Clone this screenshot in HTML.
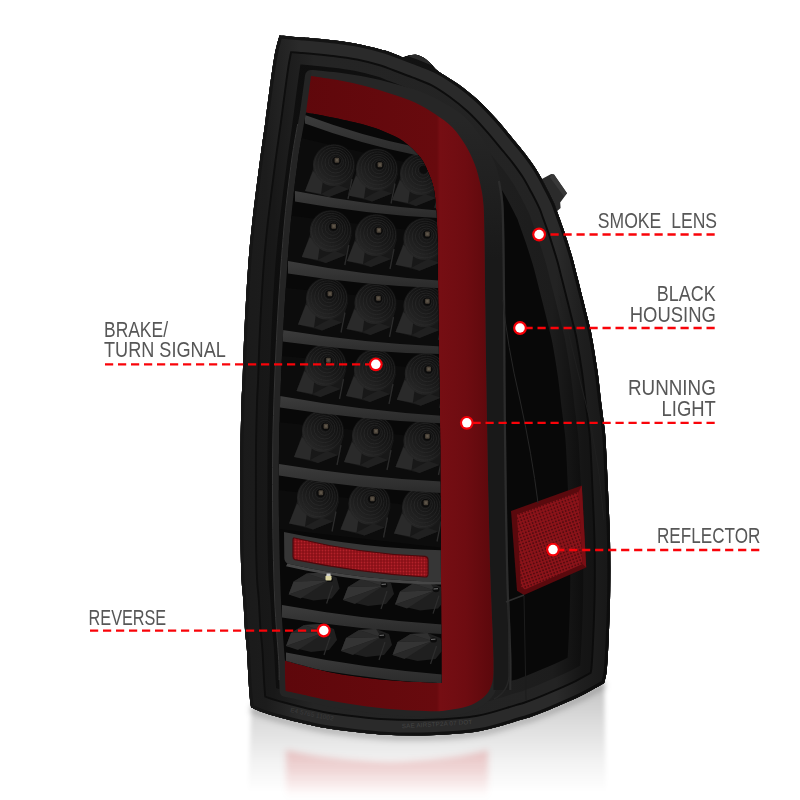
<!DOCTYPE html>
<html lang="en"><head><meta charset="utf-8"><title>Tail light features</title>
<style>
html,body{margin:0;padding:0;background:#fff;}
body{width:800px;height:800px;overflow:hidden;font-family:"Liberation Sans",sans-serif;}
svg{display:block}
.lbl text{font-family:"Liberation Sans",sans-serif;font-size:22.4px;fill:#575757;}
.dash line{stroke:#f90309;stroke-width:2.3;stroke-dasharray:8.2 4.8;}
</style></head><body>
<svg width="800" height="800" viewBox="0 0 800 800">
<defs>
<linearGradient id="redg" x1="285" y1="0" x2="493" y2="0" gradientUnits="userSpaceOnUse"><stop offset="0" stop-color="#5e070b"/><stop offset="0.73" stop-color="#680a0e"/><stop offset="0.745" stop-color="#760e13"/><stop offset="0.87" stop-color="#6e0c11"/><stop offset="1" stop-color="#5c080c"/></linearGradient>
<linearGradient id="ledg" x1="0.1" y1="0.95" x2="0.8" y2="0.1">
<stop offset="0" stop-color="#2a2a2a"/><stop offset="0.45" stop-color="#1b1b1b"/><stop offset="1" stop-color="#0e0e0e"/>
</linearGradient>
<linearGradient id="shelfg" x1="0" y1="0" x2="0" y2="1">
<stop offset="0" stop-color="#3c3c3c"/><stop offset="1" stop-color="#2a2a2a"/>
</linearGradient>
<linearGradient id="shadowg" x1="0" y1="700" x2="0" y2="800" gradientUnits="userSpaceOnUse">
<stop offset="0" stop-color="#9a9a9a" stop-opacity="0.9"/><stop offset="0.5" stop-color="#d5d5d5" stop-opacity="0.6"/><stop offset="1" stop-color="#fff" stop-opacity="0"/>
</linearGradient>
<linearGradient id="gA" x1="240" y1="0" x2="612" y2="0" gradientUnits="userSpaceOnUse"><stop offset="0" stop-color="#1a1a1a"/><stop offset="0.07" stop-color="#1c1c1c"/><stop offset="0.16" stop-color="#2a2a2a"/><stop offset="0.85" stop-color="#2a2a2a"/><stop offset="0.92" stop-color="#1e1e1e"/><stop offset="1" stop-color="#171717"/></linearGradient>
<linearGradient id="gB" x1="240" y1="0" x2="612" y2="0" gradientUnits="userSpaceOnUse"><stop offset="0" stop-color="#161616"/><stop offset="0.09" stop-color="#181818"/><stop offset="0.2" stop-color="#242424"/><stop offset="0.85" stop-color="#232323"/><stop offset="0.92" stop-color="#151515"/><stop offset="1" stop-color="#111"/></linearGradient>
<linearGradient id="gL" x1="240" y1="0" x2="612" y2="0" gradientUnits="userSpaceOnUse"><stop offset="0" stop-color="#0e0e0e"/><stop offset="1" stop-color="#0b0b0b"/></linearGradient>
<linearGradient id="gD" x1="240" y1="0" x2="612" y2="0" gradientUnits="userSpaceOnUse"><stop offset="0" stop-color="#0e0e0e"/><stop offset="0.55" stop-color="#101010"/><stop offset="0.66" stop-color="#1f1f1f"/><stop offset="0.84" stop-color="#1c1c1c"/><stop offset="0.92" stop-color="#0e0e0e"/><stop offset="1" stop-color="#0b0b0b"/></linearGradient>
<linearGradient id="gR" x1="240" y1="0" x2="612" y2="0" gradientUnits="userSpaceOnUse"><stop offset="0" stop-color="#161616"/><stop offset="1" stop-color="#0d0d0d"/></linearGradient>
<linearGradient id="reflg" x1="0" y1="690" x2="0" y2="792" gradientUnits="userSpaceOnUse"><stop offset="0" stop-color="#000" stop-opacity="0.22"/><stop offset="0.35" stop-color="#000" stop-opacity="0.13"/><stop offset="0.7" stop-color="#000" stop-opacity="0.05"/><stop offset="1" stop-color="#000" stop-opacity="0"/></linearGradient>
<linearGradient id="pinkg" x1="0" y1="746" x2="0" y2="798" gradientUnits="userSpaceOnUse"><stop offset="0" stop-color="#c8000f" stop-opacity="0.2"/><stop offset="0.5" stop-color="#c8000f" stop-opacity="0.12"/><stop offset="1" stop-color="#c8000f" stop-opacity="0"/></linearGradient>
<filter id="blur2" x="-10%" y="-10%" width="120%" height="120%"><feGaussianBlur stdDeviation="2"/></filter>
<filter id="blur1" x="-10%" y="-10%" width="120%" height="120%"><feGaussianBlur stdDeviation="1.2"/></filter>
<linearGradient id="gbg" x1="0" y1="120" x2="0" y2="260" gradientUnits="userSpaceOnUse"><stop offset="0" stop-color="#262626"/><stop offset="1" stop-color="#191919"/></linearGradient>
<filter id="blur6" x="-20%" y="-20%" width="140%" height="140%"><feGaussianBlur stdDeviation="6"/></filter>
<filter id="blur3" x="-20%" y="-20%" width="140%" height="140%"><feGaussianBlur stdDeviation="3"/></filter>
<pattern id="dots" width="3" height="3" patternUnits="userSpaceOnUse"><rect width="3" height="3" fill="#8a0f16"/><circle cx="1.5" cy="1.5" r="0.9" fill="#b3222a"/></pattern>
<pattern id="dots2" width="3.2" height="3.2" patternUnits="userSpaceOnUse" patternTransform="rotate(-20)"><rect width="3.2" height="3.2" fill="#8c1319"/><circle cx="1.6" cy="1.6" r="0.95" fill="#560a0e"/></pattern>
<clipPath id="clipOutline"><path d="M279.5,35.5 C282.9,35.8 294.9,36.9 300.0,37.3 C305.1,37.7 304.2,37.5 310.0,38.1 C315.8,38.7 326.7,39.6 335.0,40.6 C343.3,41.6 351.7,42.7 360.0,44.4 C368.3,46.1 378.5,48.7 385.0,50.6 C391.5,52.5 396.0,54.7 399.0,55.8 C402.0,56.9 401.3,57.3 403.0,57.3 C404.7,57.3 406.8,56.0 409.0,55.6 C411.2,55.2 413.5,54.4 416.0,54.8 C418.5,55.2 421.5,56.5 424.0,58.0 C426.5,59.5 428.6,61.8 431.0,64.0 C433.4,66.2 433.9,68.1 438.5,71.5 C443.1,74.9 452.2,79.7 458.8,84.4 C465.2,89.1 471.2,93.8 477.5,99.5 C483.8,105.2 490.0,111.8 496.2,118.8 C502.5,125.7 510.2,135.5 515.0,141.2 C519.8,147.0 521.5,148.9 525.0,153.5 C528.5,158.1 532.7,163.8 536.0,169.0 C539.3,174.2 542.0,179.4 545.0,185.0 C548.0,190.6 551.7,197.9 553.8,202.5 C555.8,207.1 555.8,207.9 557.5,212.5 C559.2,217.1 562.2,225.4 563.8,230.0 C565.3,234.6 565.5,235.3 567.0,240.0 C568.5,244.7 570.8,251.8 572.5,258.0 C574.2,264.2 575.6,270.1 577.5,277.5 C579.4,284.9 581.7,294.2 583.8,302.5 C585.8,310.8 588.5,321.2 590.0,327.5 C591.5,333.8 591.2,332.8 592.5,340.0 C593.8,347.2 596.0,360.6 597.5,371.0 C599.0,381.4 600.2,393.9 601.2,402.5 C602.3,411.1 603.0,416.2 603.8,422.5 C604.5,428.8 604.9,428.8 605.6,440.0 C606.3,451.2 607.3,473.3 608.0,490.0 C608.7,506.7 609.6,523.3 610.0,540.0 C610.4,556.7 610.4,573.3 610.2,590.0 C610.0,606.7 609.2,626.7 608.6,640.0 C608.0,653.3 607.5,662.8 606.8,670.0 C606.1,677.2 604.6,680.8 604.2,683.0 C600.6,685.0 590.3,691.1 582.5,695.0 C574.7,698.9 565.8,702.7 557.5,706.2 C549.2,709.8 538.8,714.0 532.5,716.2 C526.2,718.5 528.8,717.5 520.0,720.0 C511.2,722.5 495.0,728.5 480.0,731.0 C465.0,733.5 446.7,734.7 430.0,735.3 C413.3,735.9 396.7,735.5 380.0,734.4 C363.3,733.3 342.5,730.5 330.0,728.8 C317.5,727.0 313.3,725.6 305.0,723.8 C296.7,721.9 287.2,719.5 280.0,717.5 C272.8,715.5 266.8,713.7 262.0,712.0 C257.2,710.3 253.0,708.2 251.2,707.5 C251.0,706.2 250.5,704.6 250.0,700.0 C249.5,695.4 249.0,688.3 248.5,680.0 C248.0,671.7 247.5,658.3 246.9,650.0 C246.3,641.7 245.6,638.3 245.0,630.0 C244.4,621.7 243.9,608.3 243.3,600.0 C242.7,591.7 242.1,590.0 241.6,580.0 C241.1,570.0 240.7,553.3 240.5,540.0 C240.3,526.7 240.4,511.7 240.4,500.0 C240.4,488.3 240.4,480.0 240.4,470.0 C240.4,460.0 240.4,451.7 240.6,440.0 C240.8,428.3 241.3,410.0 241.6,400.0 C241.9,390.0 242.2,390.0 242.6,380.0 C243.0,370.0 243.4,353.3 244.0,340.0 C244.6,326.7 245.2,313.3 246.0,300.0 C246.8,286.7 247.5,273.3 248.6,260.0 C249.7,246.7 250.6,236.7 252.5,220.0 C254.4,203.3 257.8,176.7 260.0,160.0 C262.2,143.3 263.3,136.7 265.6,120.0 C267.9,103.3 271.4,74.1 273.8,60.0 C276.1,45.9 278.5,39.6 279.5,35.5Z"/></clipPath>
<clipPath id="clipPanel"><path d="M306.0,112.5 C310.8,113.4 325.2,115.9 335.0,118.0 C344.8,120.1 356.7,122.7 365.0,125.0 C373.3,127.3 378.7,129.3 385.0,132.0 C391.3,134.7 397.2,136.8 403.0,141.0 C408.8,145.2 415.8,151.8 420.0,157.0 C424.2,162.2 425.7,166.5 428.0,172.0 C430.3,177.5 432.6,182.8 434.0,190.0 C435.4,197.2 435.9,206.7 436.5,215.0 C437.1,223.3 437.2,229.2 437.5,240.0 C437.8,250.8 437.8,260.0 438.0,280.0 C438.2,300.0 438.7,336.7 439.0,360.0 C439.3,383.3 439.8,396.7 440.0,420.0 C440.2,443.3 440.3,473.3 440.5,500.0 C440.7,526.7 440.8,555.0 441.0,580.0 C441.2,605.0 441.4,632.8 441.5,650.0 C441.6,667.2 441.5,677.5 441.5,683.0 L441.5,683 C439.6,682.9 440.2,683.1 430.0,682.5 C419.8,681.9 396.7,681.1 380.0,679.4 C363.3,677.7 345.8,675.3 330.0,672.2 C314.2,669.1 292.5,662.5 285.0,660.6 C284.3,650.5 282.0,623.4 281.0,600.0 C280.0,576.6 279.3,545.0 279.0,520.0 C278.7,495.0 278.7,473.3 279.0,450.0 C279.3,426.7 280.0,405.0 281.0,380.0 C282.0,355.0 283.3,326.7 285.0,300.0 C286.7,273.3 288.8,243.3 291.0,220.0 C293.2,196.7 295.5,177.9 298.0,160.0 C300.5,142.1 304.7,120.4 306.0,112.5Z"/></clipPath>
</defs>
<rect width="800" height="800" fill="#fff"/>

<g filter="url(#blur3)"><path d="M251.2,707.5 C253.0,708.2 257.2,710.3 262.0,712.0 C266.8,713.7 272.8,715.5 280.0,717.5 C287.2,719.5 296.7,721.9 305.0,723.8 C313.3,725.6 317.5,727.0 330.0,728.8 C342.5,730.5 363.3,733.3 380.0,734.4 C396.7,735.5 413.3,735.9 430.0,735.3 C446.7,734.7 465.0,733.5 480.0,731.0 C495.0,728.5 511.2,722.5 520.0,720.0 C528.8,717.5 526.2,718.5 532.5,716.2 C538.8,714.0 549.2,709.8 557.5,706.2 C565.8,702.7 574.7,698.9 582.5,695.0 C590.3,691.1 600.6,685.0 604.2,683.0" fill="none" stroke="#000" stroke-opacity="0.22" stroke-width="9"/></g>
<g filter="url(#blur2)"><path d="M251.2,707.5 C253.0,708.2 257.2,710.3 262.0,712.0 C266.8,713.7 272.8,715.5 280.0,717.5 C287.2,719.5 296.7,721.9 305.0,723.8 C313.3,725.6 317.5,727.0 330.0,728.8 C342.5,730.5 363.3,733.3 380.0,734.4 C396.7,735.5 413.3,735.9 430.0,735.3 C446.7,734.7 465.0,733.5 480.0,731.0 C495.0,728.5 511.2,722.5 520.0,720.0 C528.8,717.5 526.2,718.5 532.5,716.2 C538.8,714.0 549.2,709.8 557.5,706.2 C565.8,702.7 574.7,698.9 582.5,695.0 C590.3,691.1 600.6,685.0 604.2,683.0 L606,800 L248,800 Z" fill="url(#reflg)"/>
</g><g filter="url(#blur3)"><path d="M286,750 Q330,760 390,762 Q450,760 488,750 L488,800 L286,800 Z" fill="url(#pinkg)"/></g>
<path d="M540,180 L551.2,174 L554,174.4 L567,193.2 L560.2,202.5 L560.6,208 L555,213 Z" fill="#2b2b2b"/><path d="M551.2,174 L554,174.4 L567,193.2 L564,196.5 L550,177.5 Z" fill="#383838"/>
<path d="M279.5,35.5 C282.9,35.8 294.9,36.9 300.0,37.3 C305.1,37.7 304.2,37.5 310.0,38.1 C315.8,38.7 326.7,39.6 335.0,40.6 C343.3,41.6 351.7,42.7 360.0,44.4 C368.3,46.1 378.5,48.7 385.0,50.6 C391.5,52.5 396.0,54.7 399.0,55.8 C402.0,56.9 401.3,57.3 403.0,57.3 C404.7,57.3 406.8,56.0 409.0,55.6 C411.2,55.2 413.5,54.4 416.0,54.8 C418.5,55.2 421.5,56.5 424.0,58.0 C426.5,59.5 428.6,61.8 431.0,64.0 C433.4,66.2 433.9,68.1 438.5,71.5 C443.1,74.9 452.2,79.7 458.8,84.4 C465.2,89.1 471.2,93.8 477.5,99.5 C483.8,105.2 490.0,111.8 496.2,118.8 C502.5,125.7 510.2,135.5 515.0,141.2 C519.8,147.0 521.5,148.9 525.0,153.5 C528.5,158.1 532.7,163.8 536.0,169.0 C539.3,174.2 542.0,179.4 545.0,185.0 C548.0,190.6 551.7,197.9 553.8,202.5 C555.8,207.1 555.8,207.9 557.5,212.5 C559.2,217.1 562.2,225.4 563.8,230.0 C565.3,234.6 565.5,235.3 567.0,240.0 C568.5,244.7 570.8,251.8 572.5,258.0 C574.2,264.2 575.6,270.1 577.5,277.5 C579.4,284.9 581.7,294.2 583.8,302.5 C585.8,310.8 588.5,321.2 590.0,327.5 C591.5,333.8 591.2,332.8 592.5,340.0 C593.8,347.2 596.0,360.6 597.5,371.0 C599.0,381.4 600.2,393.9 601.2,402.5 C602.3,411.1 603.0,416.2 603.8,422.5 C604.5,428.8 604.9,428.8 605.6,440.0 C606.3,451.2 607.3,473.3 608.0,490.0 C608.7,506.7 609.6,523.3 610.0,540.0 C610.4,556.7 610.4,573.3 610.2,590.0 C610.0,606.7 609.2,626.7 608.6,640.0 C608.0,653.3 607.5,662.8 606.8,670.0 C606.1,677.2 604.6,680.8 604.2,683.0 C600.6,685.0 590.3,691.1 582.5,695.0 C574.7,698.9 565.8,702.7 557.5,706.2 C549.2,709.8 538.8,714.0 532.5,716.2 C526.2,718.5 528.8,717.5 520.0,720.0 C511.2,722.5 495.0,728.5 480.0,731.0 C465.0,733.5 446.7,734.7 430.0,735.3 C413.3,735.9 396.7,735.5 380.0,734.4 C363.3,733.3 342.5,730.5 330.0,728.8 C317.5,727.0 313.3,725.6 305.0,723.8 C296.7,721.9 287.2,719.5 280.0,717.5 C272.8,715.5 266.8,713.7 262.0,712.0 C257.2,710.3 253.0,708.2 251.2,707.5 C251.0,706.2 250.5,704.6 250.0,700.0 C249.5,695.4 249.0,688.3 248.5,680.0 C248.0,671.7 247.5,658.3 246.9,650.0 C246.3,641.7 245.6,638.3 245.0,630.0 C244.4,621.7 243.9,608.3 243.3,600.0 C242.7,591.7 242.1,590.0 241.6,580.0 C241.1,570.0 240.7,553.3 240.5,540.0 C240.3,526.7 240.4,511.7 240.4,500.0 C240.4,488.3 240.4,480.0 240.4,470.0 C240.4,460.0 240.4,451.7 240.6,440.0 C240.8,428.3 241.3,410.0 241.6,400.0 C241.9,390.0 242.2,390.0 242.6,380.0 C243.0,370.0 243.4,353.3 244.0,340.0 C244.6,326.7 245.2,313.3 246.0,300.0 C246.8,286.7 247.5,273.3 248.6,260.0 C249.7,246.7 250.6,236.7 252.5,220.0 C254.4,203.3 257.8,176.7 260.0,160.0 C262.2,143.3 263.3,136.7 265.6,120.0 C267.9,103.3 271.4,74.1 273.8,60.0 C276.1,45.9 278.5,39.6 279.5,35.5Z" fill="#080808"/>
<g clip-path="url(#clipOutline)">
<path d="M397,55 L403,57.3 L409,55.6 L416,54.8 L424,58 L431,64 L440,72 Z" fill="#262626" stroke="#161616" stroke-width="1"/>
<path d="M279.5,35.5 C282.9,35.8 294.9,36.9 300.0,37.3 C305.1,37.7 304.2,37.5 310.0,38.1 C315.8,38.7 326.7,39.6 335.0,40.6 C343.3,41.6 351.7,42.7 360.0,44.4 C368.3,46.1 378.5,48.7 385.0,50.6 C391.5,52.5 393.5,53.7 399.0,55.8 C404.5,57.9 411.4,60.4 418.0,63.0 C424.6,65.6 431.7,67.9 438.5,71.5 C445.3,75.1 452.2,79.7 458.8,84.4 C465.2,89.1 471.2,93.8 477.5,99.5 C483.8,105.2 490.0,111.8 496.2,118.8 C502.5,125.7 510.2,135.5 515.0,141.2 C519.8,147.0 521.5,148.9 525.0,153.5 C528.5,158.1 532.7,163.8 536.0,169.0 C539.3,174.2 542.0,179.4 545.0,185.0 C548.0,190.6 551.7,197.9 553.8,202.5 C555.8,207.1 555.8,207.9 557.5,212.5 C559.2,217.1 562.2,225.4 563.8,230.0 C565.3,234.6 565.5,235.3 567.0,240.0 C568.5,244.7 570.8,251.8 572.5,258.0 C574.2,264.2 575.6,270.1 577.5,277.5 C579.4,284.9 581.7,294.2 583.8,302.5 C585.8,310.8 588.5,321.2 590.0,327.5 C591.5,333.8 591.2,332.8 592.5,340.0 C593.8,347.2 596.0,360.6 597.5,371.0 C599.0,381.4 600.2,393.9 601.2,402.5 C602.3,411.1 603.0,416.2 603.8,422.5 C604.5,428.8 604.9,428.8 605.6,440.0 C606.3,451.2 607.3,473.3 608.0,490.0 C608.7,506.7 609.6,523.3 610.0,540.0 C610.4,556.7 610.4,573.3 610.2,590.0 C610.0,606.7 609.2,626.7 608.6,640.0 C608.0,653.3 607.5,662.8 606.8,670.0 C606.1,677.2 604.6,680.8 604.2,683.0 C600.6,685.0 590.3,691.1 582.5,695.0 C574.7,698.9 565.8,702.7 557.5,706.2 C549.2,709.8 538.8,714.0 532.5,716.2 C526.2,718.5 528.8,717.5 520.0,720.0 C511.2,722.5 495.0,728.5 480.0,731.0 C465.0,733.5 446.7,734.7 430.0,735.3 C413.3,735.9 396.7,735.5 380.0,734.4 C363.3,733.3 342.5,730.5 330.0,728.8 C317.5,727.0 313.3,725.6 305.0,723.8 C296.7,721.9 287.2,719.5 280.0,717.5 C272.8,715.5 266.8,713.7 262.0,712.0 C257.2,710.3 253.0,708.2 251.2,707.5 C251.0,706.2 250.5,704.6 250.0,700.0 C249.5,695.4 249.0,688.3 248.5,680.0 C248.0,671.7 247.5,658.3 246.9,650.0 C246.3,641.7 245.6,638.3 245.0,630.0 C244.4,621.7 243.9,608.3 243.3,600.0 C242.7,591.7 242.1,590.0 241.6,580.0 C241.1,570.0 240.7,553.3 240.5,540.0 C240.3,526.7 240.4,511.7 240.4,500.0 C240.4,488.3 240.4,480.0 240.4,470.0 C240.4,460.0 240.4,451.7 240.6,440.0 C240.8,428.3 241.3,410.0 241.6,400.0 C241.9,390.0 242.2,390.0 242.6,380.0 C243.0,370.0 243.4,353.3 244.0,340.0 C244.6,326.7 245.2,313.3 246.0,300.0 C246.8,286.7 247.5,273.3 248.6,260.0 C249.7,246.7 250.6,236.7 252.5,220.0 C254.4,203.3 257.8,176.7 260.0,160.0 C262.2,143.3 263.3,136.7 265.6,120.0 C267.9,103.3 271.4,74.1 273.8,60.0 C276.1,45.9 278.5,39.6 279.5,35.5Z" fill="none" stroke="url(#gD)" stroke-width="80.0" stroke-linejoin="round"/>
<path d="M279.5,35.5 C282.9,35.8 294.9,36.9 300.0,37.3 C305.1,37.7 304.2,37.5 310.0,38.1 C315.8,38.7 326.7,39.6 335.0,40.6 C343.3,41.6 351.7,42.7 360.0,44.4 C368.3,46.1 378.5,48.7 385.0,50.6 C391.5,52.5 393.5,53.7 399.0,55.8 C404.5,57.9 411.4,60.4 418.0,63.0 C424.6,65.6 431.7,67.9 438.5,71.5 C445.3,75.1 452.2,79.7 458.8,84.4 C465.2,89.1 471.2,93.8 477.5,99.5 C483.8,105.2 490.0,111.8 496.2,118.8 C502.5,125.7 510.2,135.5 515.0,141.2 C519.8,147.0 521.5,148.9 525.0,153.5 C528.5,158.1 532.7,163.8 536.0,169.0 C539.3,174.2 542.0,179.4 545.0,185.0 C548.0,190.6 551.7,197.9 553.8,202.5 C555.8,207.1 555.8,207.9 557.5,212.5 C559.2,217.1 562.2,225.4 563.8,230.0 C565.3,234.6 565.5,235.3 567.0,240.0 C568.5,244.7 570.8,251.8 572.5,258.0 C574.2,264.2 575.6,270.1 577.5,277.5 C579.4,284.9 581.7,294.2 583.8,302.5 C585.8,310.8 588.5,321.2 590.0,327.5 C591.5,333.8 591.2,332.8 592.5,340.0 C593.8,347.2 596.0,360.6 597.5,371.0 C599.0,381.4 600.2,393.9 601.2,402.5 C602.3,411.1 603.0,416.2 603.8,422.5 C604.5,428.8 604.9,428.8 605.6,440.0 C606.3,451.2 607.3,473.3 608.0,490.0 C608.7,506.7 609.6,523.3 610.0,540.0 C610.4,556.7 610.4,573.3 610.2,590.0 C610.0,606.7 609.2,626.7 608.6,640.0 C608.0,653.3 607.5,662.8 606.8,670.0 C606.1,677.2 604.6,680.8 604.2,683.0 C600.6,685.0 590.3,691.1 582.5,695.0 C574.7,698.9 565.8,702.7 557.5,706.2 C549.2,709.8 538.8,714.0 532.5,716.2 C526.2,718.5 528.8,717.5 520.0,720.0 C511.2,722.5 495.0,728.5 480.0,731.0 C465.0,733.5 446.7,734.7 430.0,735.3 C413.3,735.9 396.7,735.5 380.0,734.4 C363.3,733.3 342.5,730.5 330.0,728.8 C317.5,727.0 313.3,725.6 305.0,723.8 C296.7,721.9 287.2,719.5 280.0,717.5 C272.8,715.5 266.8,713.7 262.0,712.0 C257.2,710.3 253.0,708.2 251.2,707.5 C251.0,706.2 250.5,704.6 250.0,700.0 C249.5,695.4 249.0,688.3 248.5,680.0 C248.0,671.7 247.5,658.3 246.9,650.0 C246.3,641.7 245.6,638.3 245.0,630.0 C244.4,621.7 243.9,608.3 243.3,600.0 C242.7,591.7 242.1,590.0 241.6,580.0 C241.1,570.0 240.7,553.3 240.5,540.0 C240.3,526.7 240.4,511.7 240.4,500.0 C240.4,488.3 240.4,480.0 240.4,470.0 C240.4,460.0 240.4,451.7 240.6,440.0 C240.8,428.3 241.3,410.0 241.6,400.0 C241.9,390.0 242.2,390.0 242.6,380.0 C243.0,370.0 243.4,353.3 244.0,340.0 C244.6,326.7 245.2,313.3 246.0,300.0 C246.8,286.7 247.5,273.3 248.6,260.0 C249.7,246.7 250.6,236.7 252.5,220.0 C254.4,203.3 257.8,176.7 260.0,160.0 C262.2,143.3 263.3,136.7 265.6,120.0 C267.9,103.3 271.4,74.1 273.8,60.0 C276.1,45.9 278.5,39.6 279.5,35.5Z" fill="none" stroke="url(#gB)" stroke-width="54.0" stroke-linejoin="round"/>
<path d="M279.5,35.5 C282.9,35.8 294.9,36.9 300.0,37.3 C305.1,37.7 304.2,37.5 310.0,38.1 C315.8,38.7 326.7,39.6 335.0,40.6 C343.3,41.6 351.7,42.7 360.0,44.4 C368.3,46.1 378.5,48.7 385.0,50.6 C391.5,52.5 393.5,53.7 399.0,55.8 C404.5,57.9 411.4,60.4 418.0,63.0 C424.6,65.6 431.7,67.9 438.5,71.5 C445.3,75.1 452.2,79.7 458.8,84.4 C465.2,89.1 471.2,93.8 477.5,99.5 C483.8,105.2 490.0,111.8 496.2,118.8 C502.5,125.7 510.2,135.5 515.0,141.2 C519.8,147.0 521.5,148.9 525.0,153.5 C528.5,158.1 532.7,163.8 536.0,169.0 C539.3,174.2 542.0,179.4 545.0,185.0 C548.0,190.6 551.7,197.9 553.8,202.5 C555.8,207.1 555.8,207.9 557.5,212.5 C559.2,217.1 562.2,225.4 563.8,230.0 C565.3,234.6 565.5,235.3 567.0,240.0 C568.5,244.7 570.8,251.8 572.5,258.0 C574.2,264.2 575.6,270.1 577.5,277.5 C579.4,284.9 581.7,294.2 583.8,302.5 C585.8,310.8 588.5,321.2 590.0,327.5 C591.5,333.8 591.2,332.8 592.5,340.0 C593.8,347.2 596.0,360.6 597.5,371.0 C599.0,381.4 600.2,393.9 601.2,402.5 C602.3,411.1 603.0,416.2 603.8,422.5 C604.5,428.8 604.9,428.8 605.6,440.0 C606.3,451.2 607.3,473.3 608.0,490.0 C608.7,506.7 609.6,523.3 610.0,540.0 C610.4,556.7 610.4,573.3 610.2,590.0 C610.0,606.7 609.2,626.7 608.6,640.0 C608.0,653.3 607.5,662.8 606.8,670.0 C606.1,677.2 604.6,680.8 604.2,683.0 C600.6,685.0 590.3,691.1 582.5,695.0 C574.7,698.9 565.8,702.7 557.5,706.2 C549.2,709.8 538.8,714.0 532.5,716.2 C526.2,718.5 528.8,717.5 520.0,720.0 C511.2,722.5 495.0,728.5 480.0,731.0 C465.0,733.5 446.7,734.7 430.0,735.3 C413.3,735.9 396.7,735.5 380.0,734.4 C363.3,733.3 342.5,730.5 330.0,728.8 C317.5,727.0 313.3,725.6 305.0,723.8 C296.7,721.9 287.2,719.5 280.0,717.5 C272.8,715.5 266.8,713.7 262.0,712.0 C257.2,710.3 253.0,708.2 251.2,707.5 C251.0,706.2 250.5,704.6 250.0,700.0 C249.5,695.4 249.0,688.3 248.5,680.0 C248.0,671.7 247.5,658.3 246.9,650.0 C246.3,641.7 245.6,638.3 245.0,630.0 C244.4,621.7 243.9,608.3 243.3,600.0 C242.7,591.7 242.1,590.0 241.6,580.0 C241.1,570.0 240.7,553.3 240.5,540.0 C240.3,526.7 240.4,511.7 240.4,500.0 C240.4,488.3 240.4,480.0 240.4,470.0 C240.4,460.0 240.4,451.7 240.6,440.0 C240.8,428.3 241.3,410.0 241.6,400.0 C241.9,390.0 242.2,390.0 242.6,380.0 C243.0,370.0 243.4,353.3 244.0,340.0 C244.6,326.7 245.2,313.3 246.0,300.0 C246.8,286.7 247.5,273.3 248.6,260.0 C249.7,246.7 250.6,236.7 252.5,220.0 C254.4,203.3 257.8,176.7 260.0,160.0 C262.2,143.3 263.3,136.7 265.6,120.0 C267.9,103.3 271.4,74.1 273.8,60.0 C276.1,45.9 278.5,39.6 279.5,35.5Z" fill="none" stroke="url(#gL)" stroke-width="33.0" stroke-linejoin="round"/>
<path d="M279.5,35.5 C282.9,35.8 294.9,36.9 300.0,37.3 C305.1,37.7 304.2,37.5 310.0,38.1 C315.8,38.7 326.7,39.6 335.0,40.6 C343.3,41.6 351.7,42.7 360.0,44.4 C368.3,46.1 378.5,48.7 385.0,50.6 C391.5,52.5 393.5,53.7 399.0,55.8 C404.5,57.9 411.4,60.4 418.0,63.0 C424.6,65.6 431.7,67.9 438.5,71.5 C445.3,75.1 452.2,79.7 458.8,84.4 C465.2,89.1 471.2,93.8 477.5,99.5 C483.8,105.2 490.0,111.8 496.2,118.8 C502.5,125.7 510.2,135.5 515.0,141.2 C519.8,147.0 521.5,148.9 525.0,153.5 C528.5,158.1 532.7,163.8 536.0,169.0 C539.3,174.2 542.0,179.4 545.0,185.0 C548.0,190.6 551.7,197.9 553.8,202.5 C555.8,207.1 555.8,207.9 557.5,212.5 C559.2,217.1 562.2,225.4 563.8,230.0 C565.3,234.6 565.5,235.3 567.0,240.0 C568.5,244.7 570.8,251.8 572.5,258.0 C574.2,264.2 575.6,270.1 577.5,277.5 C579.4,284.9 581.7,294.2 583.8,302.5 C585.8,310.8 588.5,321.2 590.0,327.5 C591.5,333.8 591.2,332.8 592.5,340.0 C593.8,347.2 596.0,360.6 597.5,371.0 C599.0,381.4 600.2,393.9 601.2,402.5 C602.3,411.1 603.0,416.2 603.8,422.5 C604.5,428.8 604.9,428.8 605.6,440.0 C606.3,451.2 607.3,473.3 608.0,490.0 C608.7,506.7 609.6,523.3 610.0,540.0 C610.4,556.7 610.4,573.3 610.2,590.0 C610.0,606.7 609.2,626.7 608.6,640.0 C608.0,653.3 607.5,662.8 606.8,670.0 C606.1,677.2 604.6,680.8 604.2,683.0 C600.6,685.0 590.3,691.1 582.5,695.0 C574.7,698.9 565.8,702.7 557.5,706.2 C549.2,709.8 538.8,714.0 532.5,716.2 C526.2,718.5 528.8,717.5 520.0,720.0 C511.2,722.5 495.0,728.5 480.0,731.0 C465.0,733.5 446.7,734.7 430.0,735.3 C413.3,735.9 396.7,735.5 380.0,734.4 C363.3,733.3 342.5,730.5 330.0,728.8 C317.5,727.0 313.3,725.6 305.0,723.8 C296.7,721.9 287.2,719.5 280.0,717.5 C272.8,715.5 266.8,713.7 262.0,712.0 C257.2,710.3 253.0,708.2 251.2,707.5 C251.0,706.2 250.5,704.6 250.0,700.0 C249.5,695.4 249.0,688.3 248.5,680.0 C248.0,671.7 247.5,658.3 246.9,650.0 C246.3,641.7 245.6,638.3 245.0,630.0 C244.4,621.7 243.9,608.3 243.3,600.0 C242.7,591.7 242.1,590.0 241.6,580.0 C241.1,570.0 240.7,553.3 240.5,540.0 C240.3,526.7 240.4,511.7 240.4,500.0 C240.4,488.3 240.4,480.0 240.4,470.0 C240.4,460.0 240.4,451.7 240.6,440.0 C240.8,428.3 241.3,410.0 241.6,400.0 C241.9,390.0 242.2,390.0 242.6,380.0 C243.0,370.0 243.4,353.3 244.0,340.0 C244.6,326.7 245.2,313.3 246.0,300.0 C246.8,286.7 247.5,273.3 248.6,260.0 C249.7,246.7 250.6,236.7 252.5,220.0 C254.4,203.3 257.8,176.7 260.0,160.0 C262.2,143.3 263.3,136.7 265.6,120.0 C267.9,103.3 271.4,74.1 273.8,60.0 C276.1,45.9 278.5,39.6 279.5,35.5Z" fill="none" stroke="url(#gA)" stroke-width="29.0" stroke-linejoin="round"/>
<path d="M279.5,35.5 C282.9,35.8 294.9,36.9 300.0,37.3 C305.1,37.7 304.2,37.5 310.0,38.1 C315.8,38.7 326.7,39.6 335.0,40.6 C343.3,41.6 351.7,42.7 360.0,44.4 C368.3,46.1 378.5,48.7 385.0,50.6 C391.5,52.5 393.5,53.7 399.0,55.8 C404.5,57.9 411.4,60.4 418.0,63.0 C424.6,65.6 431.7,67.9 438.5,71.5 C445.3,75.1 452.2,79.7 458.8,84.4 C465.2,89.1 471.2,93.8 477.5,99.5 C483.8,105.2 490.0,111.8 496.2,118.8 C502.5,125.7 510.2,135.5 515.0,141.2 C519.8,147.0 521.5,148.9 525.0,153.5 C528.5,158.1 532.7,163.8 536.0,169.0 C539.3,174.2 542.0,179.4 545.0,185.0 C548.0,190.6 551.7,197.9 553.8,202.5 C555.8,207.1 555.8,207.9 557.5,212.5 C559.2,217.1 562.2,225.4 563.8,230.0 C565.3,234.6 565.5,235.3 567.0,240.0 C568.5,244.7 570.8,251.8 572.5,258.0 C574.2,264.2 575.6,270.1 577.5,277.5 C579.4,284.9 581.7,294.2 583.8,302.5 C585.8,310.8 588.5,321.2 590.0,327.5 C591.5,333.8 591.2,332.8 592.5,340.0 C593.8,347.2 596.0,360.6 597.5,371.0 C599.0,381.4 600.2,393.9 601.2,402.5 C602.3,411.1 603.0,416.2 603.8,422.5 C604.5,428.8 604.9,428.8 605.6,440.0 C606.3,451.2 607.3,473.3 608.0,490.0 C608.7,506.7 609.6,523.3 610.0,540.0 C610.4,556.7 610.4,573.3 610.2,590.0 C610.0,606.7 609.2,626.7 608.6,640.0 C608.0,653.3 607.5,662.8 606.8,670.0 C606.1,677.2 604.6,680.8 604.2,683.0 C600.6,685.0 590.3,691.1 582.5,695.0 C574.7,698.9 565.8,702.7 557.5,706.2 C549.2,709.8 538.8,714.0 532.5,716.2 C526.2,718.5 528.8,717.5 520.0,720.0 C511.2,722.5 495.0,728.5 480.0,731.0 C465.0,733.5 446.7,734.7 430.0,735.3 C413.3,735.9 396.7,735.5 380.0,734.4 C363.3,733.3 342.5,730.5 330.0,728.8 C317.5,727.0 313.3,725.6 305.0,723.8 C296.7,721.9 287.2,719.5 280.0,717.5 C272.8,715.5 266.8,713.7 262.0,712.0 C257.2,710.3 253.0,708.2 251.2,707.5 C251.0,706.2 250.5,704.6 250.0,700.0 C249.5,695.4 249.0,688.3 248.5,680.0 C248.0,671.7 247.5,658.3 246.9,650.0 C246.3,641.7 245.6,638.3 245.0,630.0 C244.4,621.7 243.9,608.3 243.3,600.0 C242.7,591.7 242.1,590.0 241.6,580.0 C241.1,570.0 240.7,553.3 240.5,540.0 C240.3,526.7 240.4,511.7 240.4,500.0 C240.4,488.3 240.4,480.0 240.4,470.0 C240.4,460.0 240.4,451.7 240.6,440.0 C240.8,428.3 241.3,410.0 241.6,400.0 C241.9,390.0 242.2,390.0 242.6,380.0 C243.0,370.0 243.4,353.3 244.0,340.0 C244.6,326.7 245.2,313.3 246.0,300.0 C246.8,286.7 247.5,273.3 248.6,260.0 C249.7,246.7 250.6,236.7 252.5,220.0 C254.4,203.3 257.8,176.7 260.0,160.0 C262.2,143.3 263.3,136.7 265.6,120.0 C267.9,103.3 271.4,74.1 273.8,60.0 C276.1,45.9 278.5,39.6 279.5,35.5Z" fill="none" stroke="url(#gR)" stroke-width="6.0" stroke-linejoin="round"/>
<path d="M311.0,76.0 C315.8,76.8 331.0,78.8 340.0,80.5 C349.0,82.2 356.7,83.8 365.0,86.0 C373.3,88.2 381.7,90.8 390.0,93.5 C398.3,96.2 407.5,99.1 415.0,102.5 C422.5,105.9 428.8,109.8 435.0,114.0 C441.2,118.2 447.3,122.2 452.5,127.5 C457.7,132.8 462.2,139.8 466.0,146.0 C469.8,152.2 472.6,158.5 475.0,165.0 C477.4,171.5 479.1,178.3 480.5,185.0 C481.9,191.7 482.8,195.8 483.5,205.0 C484.2,214.2 484.2,224.2 484.5,240.0 C484.8,255.8 484.9,280.0 485.2,300.0 C485.4,320.0 485.7,340.0 486.0,360.0 C486.3,380.0 486.6,396.7 487.0,420.0 C487.4,443.3 487.9,473.3 488.5,500.0 C489.1,526.7 489.8,558.3 490.5,580.0 C491.2,601.7 492.0,616.7 492.5,630.0 C493.0,643.3 493.3,655.0 493.5,660.0 C493.4,663.1 493.8,673.5 493.0,678.8 C492.2,684.0 490.9,687.7 488.8,691.2 C486.6,694.8 483.5,697.5 480.0,700.0 C476.5,702.5 472.7,704.6 467.5,706.2 C462.3,707.9 455.0,709.2 448.8,710.0 C442.5,710.8 441.5,711.6 430.0,711.2 C418.5,710.9 396.7,709.8 380.0,708.0 C363.3,706.2 343.3,702.8 330.0,700.5 C316.7,698.2 307.4,695.6 300.0,694.0 C292.6,692.4 288.0,691.5 285.6,691.0 C285.5,688.5 285.1,681.1 285.0,676.0 C284.9,670.9 285.0,663.2 285.0,660.6 C284.3,650.5 282.0,623.4 281.0,600.0 C280.0,576.6 279.3,545.0 279.0,520.0 C278.7,495.0 278.7,473.3 279.0,450.0 C279.3,426.7 280.0,405.0 281.0,380.0 C282.0,355.0 283.3,326.7 285.0,300.0 C286.7,273.3 288.8,243.3 291.0,220.0 C293.2,196.7 295.5,177.9 298.0,160.0 C300.5,142.1 304.7,120.4 306.0,112.5 L311,76 Z" fill="#0c0c0c" stroke="#242424" stroke-width="12" stroke-linejoin="round"/>
<path d="M285.4,680.0 C285.3,676.8 285.7,673.9 285.0,660.6 C284.3,647.3 282.0,623.4 281.0,600.0 C280.0,576.6 279.3,545.0 279.0,520.0 C278.7,495.0 278.7,473.3 279.0,450.0 C279.3,426.7 280.0,405.0 281.0,380.0 C282.0,355.0 283.3,326.7 285.0,300.0 C286.7,273.3 288.8,243.3 291.0,220.0 C293.2,196.7 295.8,176.0 298.0,160.0 C300.2,144.0 303.0,130.0 304.0,124.0" fill="none" stroke="#353535" stroke-width="1" transform="translate(-6.3,0)"/>
<path d="M311.0,76.0 C315.8,76.8 331.0,78.8 340.0,80.5 C349.0,82.2 356.7,83.8 365.0,86.0 C373.3,88.2 381.7,90.8 390.0,93.5 C398.3,96.2 407.5,99.1 415.0,102.5 C422.5,105.9 428.8,109.8 435.0,114.0 C441.2,118.2 447.3,122.2 452.5,127.5 C457.7,132.8 462.2,139.8 466.0,146.0 C469.8,152.2 472.6,158.5 475.0,165.0 C477.4,171.5 479.1,178.3 480.5,185.0 C481.9,191.7 482.8,195.8 483.5,205.0 C484.2,214.2 484.2,224.2 484.5,240.0 C484.8,255.8 484.9,280.0 485.2,300.0 C485.4,320.0 485.7,340.0 486.0,360.0 C486.3,380.0 486.6,396.7 487.0,420.0 C487.4,443.3 487.9,473.3 488.5,500.0 C489.1,526.7 489.8,558.3 490.5,580.0 C491.2,601.7 492.0,616.7 492.5,630.0 C493.0,643.3 493.3,650.0 493.5,660.0 C493.7,670.0 493.5,685.0 493.5,690.0 L511.5,690.0 C511.5,685.0 511.7,669.8 511.5,659.7 C511.3,649.6 511.0,642.7 510.5,629.3 C510.0,615.9 509.1,601.1 508.5,579.4 C507.9,557.8 507.4,526.2 507.0,499.6 C506.6,473.0 506.2,443.0 506.0,419.7 C505.7,396.3 505.6,379.7 505.5,359.7 C505.4,339.7 505.4,319.8 505.2,299.8 C505.0,279.7 504.8,255.7 504.5,239.6 C504.2,223.6 504.2,213.3 503.4,203.5 C502.7,193.7 501.8,188.4 500.1,180.8 C498.3,173.3 496.0,165.7 492.8,158.4 C489.6,151.1 485.8,144.0 481.0,137.0 C476.2,130.0 470.4,122.1 464.0,116.4 C457.6,110.6 450.1,106.5 442.8,102.4 C435.4,98.2 428.2,94.7 420.0,91.6 C411.7,88.4 402.1,85.9 393.3,83.5 C384.5,81.1 375.9,79.0 367.3,77.3 C358.6,75.6 350.6,74.3 341.4,73.1 C332.1,71.9 316.8,70.6 311.9,70.1Z" fill="url(#gbg)"/>
<path d="M500.1,180.8 C500.6,184.6 502.7,193.7 503.4,203.5 C504.2,213.3 504.2,223.6 504.5,239.6 C504.8,255.7 505.0,279.7 505.2,299.8 C505.4,319.8 505.4,339.7 505.5,359.7 C505.6,379.7 505.7,396.3 506.0,419.7 C506.2,443.0 506.6,473.0 507.0,499.6 C507.4,526.2 507.9,557.8 508.5,579.4 C509.1,601.1 510.0,615.9 510.5,629.3 C511.0,642.7 511.3,649.6 511.5,659.7 C511.7,669.8 511.5,685.0 511.5,690.0" fill="none" stroke="#2c2c2c" stroke-width="2.2" transform="translate(-1.2,0)"/>
</g>
<path d="M311.0,76.0 C315.8,76.8 331.0,78.8 340.0,80.5 C349.0,82.2 356.7,83.8 365.0,86.0 C373.3,88.2 381.7,90.8 390.0,93.5 C398.3,96.2 407.5,99.1 415.0,102.5 C422.5,105.9 428.8,109.8 435.0,114.0 C441.2,118.2 447.3,122.2 452.5,127.5 C457.7,132.8 462.2,139.8 466.0,146.0 C469.8,152.2 472.6,158.5 475.0,165.0 C477.4,171.5 479.1,178.3 480.5,185.0 C481.9,191.7 482.8,195.8 483.5,205.0 C484.2,214.2 484.2,224.2 484.5,240.0 C484.8,255.8 484.9,280.0 485.2,300.0 C485.4,320.0 485.7,340.0 486.0,360.0 C486.3,380.0 486.6,396.7 487.0,420.0 C487.4,443.3 487.9,473.3 488.5,500.0 C489.1,526.7 489.8,558.3 490.5,580.0 C491.2,601.7 492.0,616.7 492.5,630.0 C493.0,643.3 493.3,655.0 493.5,660.0 C493.4,663.1 493.8,673.5 493.0,678.8 C492.2,684.0 490.9,687.7 488.8,691.2 C486.6,694.8 483.5,697.5 480.0,700.0 C476.5,702.5 472.7,704.6 467.5,706.2 C462.3,707.9 455.0,709.2 448.8,710.0 C442.5,710.8 441.5,711.6 430.0,711.2 C418.5,710.9 396.7,709.8 380.0,708.0 C363.3,706.2 343.3,702.8 330.0,700.5 C316.7,698.2 307.4,695.6 300.0,694.0 C292.6,692.4 288.0,691.5 285.6,691.0 C285.5,688.5 285.1,681.1 285.0,676.0 C284.9,670.9 285.0,663.2 285.0,660.6 C292.5,662.5 314.2,669.1 330.0,672.2 C345.8,675.3 363.3,677.7 380.0,679.4 C396.7,681.1 419.8,681.9 430.0,682.5 C440.2,683.1 439.6,682.9 441.5,683.0 L441.5,683.0 C441.5,677.5 441.6,667.2 441.5,650.0 C441.4,632.8 441.2,605.0 441.0,580.0 C440.8,555.0 440.7,526.7 440.5,500.0 C440.3,473.3 440.2,443.3 440.0,420.0 C439.8,396.7 439.3,383.3 439.0,360.0 C438.7,336.7 438.2,300.0 438.0,280.0 C437.8,260.0 437.8,250.8 437.5,240.0 C437.2,229.2 437.1,223.3 436.5,215.0 C435.9,206.7 435.4,197.2 434.0,190.0 C432.6,182.8 430.3,177.5 428.0,172.0 C425.7,166.5 424.2,162.2 420.0,157.0 C415.8,151.8 408.8,145.2 403.0,141.0 C397.2,136.8 391.3,134.7 385.0,132.0 C378.7,129.3 373.3,127.3 365.0,125.0 C356.7,122.7 344.8,120.1 335.0,118.0 C325.2,115.9 310.8,113.4 306.0,112.5 L311,76 Z" fill="url(#redg)"/>
<path d="M306.0,112.5 C310.8,113.4 325.2,115.9 335.0,118.0 C344.8,120.1 356.7,122.7 365.0,125.0 C373.3,127.3 378.7,129.3 385.0,132.0 C391.3,134.7 397.2,136.8 403.0,141.0 C408.8,145.2 415.8,151.8 420.0,157.0 C424.2,162.2 425.7,166.5 428.0,172.0 C430.3,177.5 432.6,182.8 434.0,190.0 C435.4,197.2 435.9,206.7 436.5,215.0 C437.1,223.3 437.2,229.2 437.5,240.0 C437.8,250.8 437.8,260.0 438.0,280.0 C438.2,300.0 438.7,336.7 439.0,360.0 C439.3,383.3 439.8,396.7 440.0,420.0 C440.2,443.3 440.3,473.3 440.5,500.0 C440.7,526.7 440.8,555.0 441.0,580.0 C441.2,605.0 441.4,632.8 441.5,650.0 C441.6,667.2 441.5,677.5 441.5,683.0 L441.5,683 C439.6,682.9 440.2,683.1 430.0,682.5 C419.8,681.9 396.7,681.1 380.0,679.4 C363.3,677.7 345.8,675.3 330.0,672.2 C314.2,669.1 292.5,662.5 285.0,660.6 C284.3,650.5 282.0,623.4 281.0,600.0 C280.0,576.6 279.3,545.0 279.0,520.0 C278.7,495.0 278.7,473.3 279.0,450.0 C279.3,426.7 280.0,405.0 281.0,380.0 C282.0,355.0 283.3,326.7 285.0,300.0 C286.7,273.3 288.8,243.3 291.0,220.0 C293.2,196.7 295.5,177.9 298.0,160.0 C300.5,142.1 304.7,120.4 306.0,112.5Z" fill="#080808"/>
<g clip-path="url(#clipPanel)">
<path d="M299.0,137.5 L445.0,171.5 L445.0,213.8 L291.0,194.0 Z" fill="#0c0c0c"/>
<path d="M289.0,215.5 L445.0,234.3 L445.0,283.8 L284.0,264.0 Z" fill="#0c0c0c"/>
<path d="M282.0,287.5 L445.0,304.3 L445.0,349.6 L278.5,333.0 Z" fill="#0c0c0c"/>
<path d="M276.5,355.5 L445.0,370.1 L445.0,418.8 L276.0,399.0 Z" fill="#0c0c0c"/>
<path d="M274.0,421.5 L445.0,439.3 L445.0,484.6 L275.0,467.0 Z" fill="#0c0c0c"/>
<path d="M273.0,489.5 L445.0,509.1 L445.0,548.0 L277.0,529.0 Z" fill="#0c0c0c"/>
<g transform="translate(334.0,165.0)"><path d="M-21,4 L-29,26 L-5,32 L15,24 L21,4 Z" fill="#181818"/><path d="M-21,6 L-29,26 L-13,29 L-11,15 Z" fill="#2a2a2a"/><path d="M-13,29 L-5,32 L15,24 L4,20 Z" fill="#202020"/><path d="M18,14 L14,34" stroke="#2c2c2c" stroke-width="1.3" fill="none"/><circle r="21.0" fill="url(#ledg)"/><circle cx="0.2" cy="-0.4" r="19.5" fill="none" stroke="#303030" stroke-width="0.9" opacity="0.50"/><circle cx="0.6" cy="-1.1" r="16.5" fill="none" stroke="#2e2e2e" stroke-width="0.9" opacity="0.55"/><circle cx="1.1" cy="-1.8" r="13.5" fill="none" stroke="#2e2e2e" stroke-width="0.9" opacity="0.60"/><circle cx="1.5" cy="-2.5" r="10.5" fill="none" stroke="#303030" stroke-width="0.9" opacity="0.60"/><circle cx="1.9" cy="-3.2" r="7.5" fill="none" stroke="#2e2e2e" stroke-width="0.9" opacity="0.60"/><circle cx="2.3" cy="-3.8" r="5.0" fill="none" stroke="#2a2a2a" stroke-width="0.9" opacity="0.60"/><circle cx="2.6" cy="-4.4" r="4.2" fill="#0b0b0b"/><rect x="0.6" y="-7.2" width="4.6" height="5" rx="1" fill="#4a4238"/><rect x="1.8" y="-6" width="2.2" height="2.4" fill="#5e564a"/></g>
<g transform="translate(377.0,169.5)"><path d="M-21,4 L-29,26 L-5,32 L15,24 L21,4 Z" fill="#181818"/><path d="M-21,6 L-29,26 L-13,29 L-11,15 Z" fill="#2a2a2a"/><path d="M-13,29 L-5,32 L15,24 L4,20 Z" fill="#202020"/><path d="M18,14 L14,34" stroke="#2c2c2c" stroke-width="1.3" fill="none"/><circle r="21.0" fill="url(#ledg)"/><circle cx="0.2" cy="-0.4" r="19.5" fill="none" stroke="#303030" stroke-width="0.9" opacity="0.50"/><circle cx="0.6" cy="-1.1" r="16.5" fill="none" stroke="#2e2e2e" stroke-width="0.9" opacity="0.55"/><circle cx="1.1" cy="-1.8" r="13.5" fill="none" stroke="#2e2e2e" stroke-width="0.9" opacity="0.60"/><circle cx="1.5" cy="-2.5" r="10.5" fill="none" stroke="#303030" stroke-width="0.9" opacity="0.60"/><circle cx="1.9" cy="-3.2" r="7.5" fill="none" stroke="#2e2e2e" stroke-width="0.9" opacity="0.60"/><circle cx="2.3" cy="-3.8" r="5.0" fill="none" stroke="#2a2a2a" stroke-width="0.9" opacity="0.60"/><circle cx="2.6" cy="-4.4" r="4.2" fill="#0b0b0b"/><rect x="0.6" y="-7.2" width="4.6" height="5" rx="1" fill="#4a4238"/><rect x="1.8" y="-6" width="2.2" height="2.4" fill="#5e564a"/></g>
<g transform="translate(421.0,174.0)"><path d="M-21,4 L-29,26 L-5,32 L15,24 L21,4 Z" fill="#181818"/><path d="M-21,6 L-29,26 L-13,29 L-11,15 Z" fill="#2a2a2a"/><path d="M-13,29 L-5,32 L15,24 L4,20 Z" fill="#202020"/><path d="M18,14 L14,34" stroke="#2c2c2c" stroke-width="1.3" fill="none"/><circle r="21.0" fill="url(#ledg)"/><circle cx="0.2" cy="-0.4" r="19.5" fill="none" stroke="#303030" stroke-width="0.9" opacity="0.50"/><circle cx="0.6" cy="-1.1" r="16.5" fill="none" stroke="#2e2e2e" stroke-width="0.9" opacity="0.55"/><circle cx="1.1" cy="-1.8" r="13.5" fill="none" stroke="#2e2e2e" stroke-width="0.9" opacity="0.60"/><circle cx="1.5" cy="-2.5" r="10.5" fill="none" stroke="#303030" stroke-width="0.9" opacity="0.60"/><circle cx="1.9" cy="-3.2" r="7.5" fill="none" stroke="#2e2e2e" stroke-width="0.9" opacity="0.60"/><circle cx="2.3" cy="-3.8" r="5.0" fill="none" stroke="#2a2a2a" stroke-width="0.9" opacity="0.60"/><circle cx="2.6" cy="-4.4" r="4.2" fill="#0b0b0b"/></g>
<g transform="translate(330.8,231.0)"><path d="M-21,4 L-29,26 L-5,32 L15,24 L21,4 Z" fill="#181818"/><path d="M-21,6 L-29,26 L-13,29 L-11,15 Z" fill="#2a2a2a"/><path d="M-13,29 L-5,32 L15,24 L4,20 Z" fill="#202020"/><path d="M18,14 L14,34" stroke="#2c2c2c" stroke-width="1.3" fill="none"/><circle r="21.0" fill="url(#ledg)"/><circle cx="0.2" cy="-0.4" r="19.5" fill="none" stroke="#303030" stroke-width="0.9" opacity="0.50"/><circle cx="0.6" cy="-1.1" r="16.5" fill="none" stroke="#2e2e2e" stroke-width="0.9" opacity="0.55"/><circle cx="1.1" cy="-1.8" r="13.5" fill="none" stroke="#2e2e2e" stroke-width="0.9" opacity="0.60"/><circle cx="1.5" cy="-2.5" r="10.5" fill="none" stroke="#303030" stroke-width="0.9" opacity="0.60"/><circle cx="1.9" cy="-3.2" r="7.5" fill="none" stroke="#2e2e2e" stroke-width="0.9" opacity="0.60"/><circle cx="2.3" cy="-3.8" r="5.0" fill="none" stroke="#2a2a2a" stroke-width="0.9" opacity="0.60"/><circle cx="2.6" cy="-4.4" r="4.2" fill="#0b0b0b"/><rect x="0.6" y="-7.2" width="4.6" height="5" rx="1" fill="#4a4238"/><rect x="1.8" y="-6" width="2.2" height="2.4" fill="#5e564a"/></g>
<g transform="translate(376.0,235.0)"><path d="M-21,4 L-29,26 L-5,32 L15,24 L21,4 Z" fill="#181818"/><path d="M-21,6 L-29,26 L-13,29 L-11,15 Z" fill="#2a2a2a"/><path d="M-13,29 L-5,32 L15,24 L4,20 Z" fill="#202020"/><path d="M18,14 L14,34" stroke="#2c2c2c" stroke-width="1.3" fill="none"/><circle r="21.0" fill="url(#ledg)"/><circle cx="0.2" cy="-0.4" r="19.5" fill="none" stroke="#303030" stroke-width="0.9" opacity="0.50"/><circle cx="0.6" cy="-1.1" r="16.5" fill="none" stroke="#2e2e2e" stroke-width="0.9" opacity="0.55"/><circle cx="1.1" cy="-1.8" r="13.5" fill="none" stroke="#2e2e2e" stroke-width="0.9" opacity="0.60"/><circle cx="1.5" cy="-2.5" r="10.5" fill="none" stroke="#303030" stroke-width="0.9" opacity="0.60"/><circle cx="1.9" cy="-3.2" r="7.5" fill="none" stroke="#2e2e2e" stroke-width="0.9" opacity="0.60"/><circle cx="2.3" cy="-3.8" r="5.0" fill="none" stroke="#2a2a2a" stroke-width="0.9" opacity="0.60"/><circle cx="2.6" cy="-4.4" r="4.2" fill="#0b0b0b"/><rect x="0.6" y="-7.2" width="4.6" height="5" rx="1" fill="#4a4238"/><rect x="1.8" y="-6" width="2.2" height="2.4" fill="#5e564a"/></g>
<g transform="translate(424.5,238.8)"><path d="M-21,4 L-29,26 L-5,32 L15,24 L21,4 Z" fill="#181818"/><path d="M-21,6 L-29,26 L-13,29 L-11,15 Z" fill="#2a2a2a"/><path d="M-13,29 L-5,32 L15,24 L4,20 Z" fill="#202020"/><path d="M18,14 L14,34" stroke="#2c2c2c" stroke-width="1.3" fill="none"/><circle r="21.0" fill="url(#ledg)"/><circle cx="0.2" cy="-0.4" r="19.5" fill="none" stroke="#303030" stroke-width="0.9" opacity="0.50"/><circle cx="0.6" cy="-1.1" r="16.5" fill="none" stroke="#2e2e2e" stroke-width="0.9" opacity="0.55"/><circle cx="1.1" cy="-1.8" r="13.5" fill="none" stroke="#2e2e2e" stroke-width="0.9" opacity="0.60"/><circle cx="1.5" cy="-2.5" r="10.5" fill="none" stroke="#303030" stroke-width="0.9" opacity="0.60"/><circle cx="1.9" cy="-3.2" r="7.5" fill="none" stroke="#2e2e2e" stroke-width="0.9" opacity="0.60"/><circle cx="2.3" cy="-3.8" r="5.0" fill="none" stroke="#2a2a2a" stroke-width="0.9" opacity="0.60"/><circle cx="2.6" cy="-4.4" r="4.2" fill="#0b0b0b"/><rect x="0.6" y="-7.2" width="4.6" height="5" rx="1" fill="#4a4238"/><rect x="1.8" y="-6" width="2.2" height="2.4" fill="#5e564a"/></g>
<g transform="translate(327.0,298.5)"><path d="M-21,4 L-29,26 L-5,32 L15,24 L21,4 Z" fill="#181818"/><path d="M-21,6 L-29,26 L-13,29 L-11,15 Z" fill="#2a2a2a"/><path d="M-13,29 L-5,32 L15,24 L4,20 Z" fill="#202020"/><path d="M18,14 L14,34" stroke="#2c2c2c" stroke-width="1.3" fill="none"/><circle r="21.0" fill="url(#ledg)"/><circle cx="0.2" cy="-0.4" r="19.5" fill="none" stroke="#303030" stroke-width="0.9" opacity="0.50"/><circle cx="0.6" cy="-1.1" r="16.5" fill="none" stroke="#2e2e2e" stroke-width="0.9" opacity="0.55"/><circle cx="1.1" cy="-1.8" r="13.5" fill="none" stroke="#2e2e2e" stroke-width="0.9" opacity="0.60"/><circle cx="1.5" cy="-2.5" r="10.5" fill="none" stroke="#303030" stroke-width="0.9" opacity="0.60"/><circle cx="1.9" cy="-3.2" r="7.5" fill="none" stroke="#2e2e2e" stroke-width="0.9" opacity="0.60"/><circle cx="2.3" cy="-3.8" r="5.0" fill="none" stroke="#2a2a2a" stroke-width="0.9" opacity="0.60"/><circle cx="2.6" cy="-4.4" r="4.2" fill="#0b0b0b"/><rect x="0.6" y="-7.2" width="4.6" height="5" rx="1" fill="#4a4238"/><rect x="1.8" y="-6" width="2.2" height="2.4" fill="#5e564a"/></g>
<g transform="translate(375.5,303.0)"><path d="M-21,4 L-29,26 L-5,32 L15,24 L21,4 Z" fill="#181818"/><path d="M-21,6 L-29,26 L-13,29 L-11,15 Z" fill="#2a2a2a"/><path d="M-13,29 L-5,32 L15,24 L4,20 Z" fill="#202020"/><path d="M18,14 L14,34" stroke="#2c2c2c" stroke-width="1.3" fill="none"/><circle r="21.0" fill="url(#ledg)"/><circle cx="0.2" cy="-0.4" r="19.5" fill="none" stroke="#303030" stroke-width="0.9" opacity="0.50"/><circle cx="0.6" cy="-1.1" r="16.5" fill="none" stroke="#2e2e2e" stroke-width="0.9" opacity="0.55"/><circle cx="1.1" cy="-1.8" r="13.5" fill="none" stroke="#2e2e2e" stroke-width="0.9" opacity="0.60"/><circle cx="1.5" cy="-2.5" r="10.5" fill="none" stroke="#303030" stroke-width="0.9" opacity="0.60"/><circle cx="1.9" cy="-3.2" r="7.5" fill="none" stroke="#2e2e2e" stroke-width="0.9" opacity="0.60"/><circle cx="2.3" cy="-3.8" r="5.0" fill="none" stroke="#2a2a2a" stroke-width="0.9" opacity="0.60"/><circle cx="2.6" cy="-4.4" r="4.2" fill="#0b0b0b"/><rect x="0.6" y="-7.2" width="4.6" height="5" rx="1" fill="#4a4238"/><rect x="1.8" y="-6" width="2.2" height="2.4" fill="#5e564a"/></g>
<g transform="translate(424.5,306.0)"><path d="M-21,4 L-29,26 L-5,32 L15,24 L21,4 Z" fill="#181818"/><path d="M-21,6 L-29,26 L-13,29 L-11,15 Z" fill="#2a2a2a"/><path d="M-13,29 L-5,32 L15,24 L4,20 Z" fill="#202020"/><path d="M18,14 L14,34" stroke="#2c2c2c" stroke-width="1.3" fill="none"/><circle r="21.0" fill="url(#ledg)"/><circle cx="0.2" cy="-0.4" r="19.5" fill="none" stroke="#303030" stroke-width="0.9" opacity="0.50"/><circle cx="0.6" cy="-1.1" r="16.5" fill="none" stroke="#2e2e2e" stroke-width="0.9" opacity="0.55"/><circle cx="1.1" cy="-1.8" r="13.5" fill="none" stroke="#2e2e2e" stroke-width="0.9" opacity="0.60"/><circle cx="1.5" cy="-2.5" r="10.5" fill="none" stroke="#303030" stroke-width="0.9" opacity="0.60"/><circle cx="1.9" cy="-3.2" r="7.5" fill="none" stroke="#2e2e2e" stroke-width="0.9" opacity="0.60"/><circle cx="2.3" cy="-3.8" r="5.0" fill="none" stroke="#2a2a2a" stroke-width="0.9" opacity="0.60"/><circle cx="2.6" cy="-4.4" r="4.2" fill="#0b0b0b"/><rect x="0.6" y="-7.2" width="4.6" height="5" rx="1" fill="#4a4238"/><rect x="1.8" y="-6" width="2.2" height="2.4" fill="#5e564a"/></g>
<g transform="translate(325.5,365.0)"><path d="M-21,4 L-29,26 L-5,32 L15,24 L21,4 Z" fill="#181818"/><path d="M-21,6 L-29,26 L-13,29 L-11,15 Z" fill="#2a2a2a"/><path d="M-13,29 L-5,32 L15,24 L4,20 Z" fill="#202020"/><path d="M18,14 L14,34" stroke="#2c2c2c" stroke-width="1.3" fill="none"/><circle r="21.0" fill="url(#ledg)"/><circle cx="0.2" cy="-0.4" r="19.5" fill="none" stroke="#303030" stroke-width="0.9" opacity="0.50"/><circle cx="0.6" cy="-1.1" r="16.5" fill="none" stroke="#2e2e2e" stroke-width="0.9" opacity="0.55"/><circle cx="1.1" cy="-1.8" r="13.5" fill="none" stroke="#2e2e2e" stroke-width="0.9" opacity="0.60"/><circle cx="1.5" cy="-2.5" r="10.5" fill="none" stroke="#303030" stroke-width="0.9" opacity="0.60"/><circle cx="1.9" cy="-3.2" r="7.5" fill="none" stroke="#2e2e2e" stroke-width="0.9" opacity="0.60"/><circle cx="2.3" cy="-3.8" r="5.0" fill="none" stroke="#2a2a2a" stroke-width="0.9" opacity="0.60"/><circle cx="2.6" cy="-4.4" r="4.2" fill="#0b0b0b"/><rect x="0.6" y="-7.2" width="4.6" height="5" rx="1" fill="#4a4238"/><rect x="1.8" y="-6" width="2.2" height="2.4" fill="#5e564a"/></g>
<g transform="translate(375.0,370.0)"><path d="M-21,4 L-29,26 L-5,32 L15,24 L21,4 Z" fill="#181818"/><path d="M-21,6 L-29,26 L-13,29 L-11,15 Z" fill="#2a2a2a"/><path d="M-13,29 L-5,32 L15,24 L4,20 Z" fill="#202020"/><path d="M18,14 L14,34" stroke="#2c2c2c" stroke-width="1.3" fill="none"/><circle r="21.0" fill="url(#ledg)"/><circle cx="0.2" cy="-0.4" r="19.5" fill="none" stroke="#303030" stroke-width="0.9" opacity="0.50"/><circle cx="0.6" cy="-1.1" r="16.5" fill="none" stroke="#2e2e2e" stroke-width="0.9" opacity="0.55"/><circle cx="1.1" cy="-1.8" r="13.5" fill="none" stroke="#2e2e2e" stroke-width="0.9" opacity="0.60"/><circle cx="1.5" cy="-2.5" r="10.5" fill="none" stroke="#303030" stroke-width="0.9" opacity="0.60"/><circle cx="1.9" cy="-3.2" r="7.5" fill="none" stroke="#2e2e2e" stroke-width="0.9" opacity="0.60"/><circle cx="2.3" cy="-3.8" r="5.0" fill="none" stroke="#2a2a2a" stroke-width="0.9" opacity="0.60"/><circle cx="2.6" cy="-4.4" r="4.2" fill="#0b0b0b"/><rect x="0.6" y="-7.2" width="4.6" height="5" rx="1" fill="#4a4238"/><rect x="1.8" y="-6" width="2.2" height="2.4" fill="#5e564a"/></g>
<g transform="translate(425.8,373.8)"><path d="M-21,4 L-29,26 L-5,32 L15,24 L21,4 Z" fill="#181818"/><path d="M-21,6 L-29,26 L-13,29 L-11,15 Z" fill="#2a2a2a"/><path d="M-13,29 L-5,32 L15,24 L4,20 Z" fill="#202020"/><path d="M18,14 L14,34" stroke="#2c2c2c" stroke-width="1.3" fill="none"/><circle r="21.0" fill="url(#ledg)"/><circle cx="0.2" cy="-0.4" r="19.5" fill="none" stroke="#303030" stroke-width="0.9" opacity="0.50"/><circle cx="0.6" cy="-1.1" r="16.5" fill="none" stroke="#2e2e2e" stroke-width="0.9" opacity="0.55"/><circle cx="1.1" cy="-1.8" r="13.5" fill="none" stroke="#2e2e2e" stroke-width="0.9" opacity="0.60"/><circle cx="1.5" cy="-2.5" r="10.5" fill="none" stroke="#303030" stroke-width="0.9" opacity="0.60"/><circle cx="1.9" cy="-3.2" r="7.5" fill="none" stroke="#2e2e2e" stroke-width="0.9" opacity="0.60"/><circle cx="2.3" cy="-3.8" r="5.0" fill="none" stroke="#2a2a2a" stroke-width="0.9" opacity="0.60"/><circle cx="2.6" cy="-4.4" r="4.2" fill="#0b0b0b"/><rect x="0.6" y="-7.2" width="4.6" height="5" rx="1" fill="#4a4238"/><rect x="1.8" y="-6" width="2.2" height="2.4" fill="#5e564a"/></g>
<g transform="translate(323.0,431.0)"><path d="M-21,4 L-29,26 L-5,32 L15,24 L21,4 Z" fill="#181818"/><path d="M-21,6 L-29,26 L-13,29 L-11,15 Z" fill="#2a2a2a"/><path d="M-13,29 L-5,32 L15,24 L4,20 Z" fill="#202020"/><path d="M18,14 L14,34" stroke="#2c2c2c" stroke-width="1.3" fill="none"/><circle r="21.0" fill="url(#ledg)"/><circle cx="0.2" cy="-0.4" r="19.5" fill="none" stroke="#303030" stroke-width="0.9" opacity="0.50"/><circle cx="0.6" cy="-1.1" r="16.5" fill="none" stroke="#2e2e2e" stroke-width="0.9" opacity="0.55"/><circle cx="1.1" cy="-1.8" r="13.5" fill="none" stroke="#2e2e2e" stroke-width="0.9" opacity="0.60"/><circle cx="1.5" cy="-2.5" r="10.5" fill="none" stroke="#303030" stroke-width="0.9" opacity="0.60"/><circle cx="1.9" cy="-3.2" r="7.5" fill="none" stroke="#2e2e2e" stroke-width="0.9" opacity="0.60"/><circle cx="2.3" cy="-3.8" r="5.0" fill="none" stroke="#2a2a2a" stroke-width="0.9" opacity="0.60"/><circle cx="2.6" cy="-4.4" r="4.2" fill="#0b0b0b"/><rect x="0.6" y="-7.2" width="4.6" height="5" rx="1" fill="#4a4238"/><rect x="1.8" y="-6" width="2.2" height="2.4" fill="#5e564a"/></g>
<g transform="translate(373.0,436.0)"><path d="M-21,4 L-29,26 L-5,32 L15,24 L21,4 Z" fill="#181818"/><path d="M-21,6 L-29,26 L-13,29 L-11,15 Z" fill="#2a2a2a"/><path d="M-13,29 L-5,32 L15,24 L4,20 Z" fill="#202020"/><path d="M18,14 L14,34" stroke="#2c2c2c" stroke-width="1.3" fill="none"/><circle r="21.0" fill="url(#ledg)"/><circle cx="0.2" cy="-0.4" r="19.5" fill="none" stroke="#303030" stroke-width="0.9" opacity="0.50"/><circle cx="0.6" cy="-1.1" r="16.5" fill="none" stroke="#2e2e2e" stroke-width="0.9" opacity="0.55"/><circle cx="1.1" cy="-1.8" r="13.5" fill="none" stroke="#2e2e2e" stroke-width="0.9" opacity="0.60"/><circle cx="1.5" cy="-2.5" r="10.5" fill="none" stroke="#303030" stroke-width="0.9" opacity="0.60"/><circle cx="1.9" cy="-3.2" r="7.5" fill="none" stroke="#2e2e2e" stroke-width="0.9" opacity="0.60"/><circle cx="2.3" cy="-3.8" r="5.0" fill="none" stroke="#2a2a2a" stroke-width="0.9" opacity="0.60"/><circle cx="2.6" cy="-4.4" r="4.2" fill="#0b0b0b"/><rect x="0.6" y="-7.2" width="4.6" height="5" rx="1" fill="#4a4238"/><rect x="1.8" y="-6" width="2.2" height="2.4" fill="#5e564a"/></g>
<g transform="translate(424.5,441.0)"><path d="M-21,4 L-29,26 L-5,32 L15,24 L21,4 Z" fill="#181818"/><path d="M-21,6 L-29,26 L-13,29 L-11,15 Z" fill="#2a2a2a"/><path d="M-13,29 L-5,32 L15,24 L4,20 Z" fill="#202020"/><path d="M18,14 L14,34" stroke="#2c2c2c" stroke-width="1.3" fill="none"/><circle r="21.0" fill="url(#ledg)"/><circle cx="0.2" cy="-0.4" r="19.5" fill="none" stroke="#303030" stroke-width="0.9" opacity="0.50"/><circle cx="0.6" cy="-1.1" r="16.5" fill="none" stroke="#2e2e2e" stroke-width="0.9" opacity="0.55"/><circle cx="1.1" cy="-1.8" r="13.5" fill="none" stroke="#2e2e2e" stroke-width="0.9" opacity="0.60"/><circle cx="1.5" cy="-2.5" r="10.5" fill="none" stroke="#303030" stroke-width="0.9" opacity="0.60"/><circle cx="1.9" cy="-3.2" r="7.5" fill="none" stroke="#2e2e2e" stroke-width="0.9" opacity="0.60"/><circle cx="2.3" cy="-3.8" r="5.0" fill="none" stroke="#2a2a2a" stroke-width="0.9" opacity="0.60"/><circle cx="2.6" cy="-4.4" r="4.2" fill="#0b0b0b"/><rect x="0.6" y="-7.2" width="4.6" height="5" rx="1" fill="#4a4238"/><rect x="1.8" y="-6" width="2.2" height="2.4" fill="#5e564a"/></g>
<g transform="translate(318.0,497.5)"><path d="M-21,4 L-29,26 L-5,32 L15,24 L21,4 Z" fill="#181818"/><path d="M-21,6 L-29,26 L-13,29 L-11,15 Z" fill="#2a2a2a"/><path d="M-13,29 L-5,32 L15,24 L4,20 Z" fill="#202020"/><path d="M18,14 L14,34" stroke="#2c2c2c" stroke-width="1.3" fill="none"/><circle r="21.0" fill="url(#ledg)"/><circle cx="0.2" cy="-0.4" r="19.5" fill="none" stroke="#303030" stroke-width="0.9" opacity="0.50"/><circle cx="0.6" cy="-1.1" r="16.5" fill="none" stroke="#2e2e2e" stroke-width="0.9" opacity="0.55"/><circle cx="1.1" cy="-1.8" r="13.5" fill="none" stroke="#2e2e2e" stroke-width="0.9" opacity="0.60"/><circle cx="1.5" cy="-2.5" r="10.5" fill="none" stroke="#303030" stroke-width="0.9" opacity="0.60"/><circle cx="1.9" cy="-3.2" r="7.5" fill="none" stroke="#2e2e2e" stroke-width="0.9" opacity="0.60"/><circle cx="2.3" cy="-3.8" r="5.0" fill="none" stroke="#2a2a2a" stroke-width="0.9" opacity="0.60"/><circle cx="2.6" cy="-4.4" r="4.2" fill="#0b0b0b"/><rect x="0.6" y="-7.2" width="4.6" height="5" rx="1" fill="#4a4238"/><rect x="1.8" y="-6" width="2.2" height="2.4" fill="#5e564a"/></g>
<g transform="translate(369.5,503.5)"><path d="M-21,4 L-29,26 L-5,32 L15,24 L21,4 Z" fill="#181818"/><path d="M-21,6 L-29,26 L-13,29 L-11,15 Z" fill="#2a2a2a"/><path d="M-13,29 L-5,32 L15,24 L4,20 Z" fill="#202020"/><path d="M18,14 L14,34" stroke="#2c2c2c" stroke-width="1.3" fill="none"/><circle r="21.0" fill="url(#ledg)"/><circle cx="0.2" cy="-0.4" r="19.5" fill="none" stroke="#303030" stroke-width="0.9" opacity="0.50"/><circle cx="0.6" cy="-1.1" r="16.5" fill="none" stroke="#2e2e2e" stroke-width="0.9" opacity="0.55"/><circle cx="1.1" cy="-1.8" r="13.5" fill="none" stroke="#2e2e2e" stroke-width="0.9" opacity="0.60"/><circle cx="1.5" cy="-2.5" r="10.5" fill="none" stroke="#303030" stroke-width="0.9" opacity="0.60"/><circle cx="1.9" cy="-3.2" r="7.5" fill="none" stroke="#2e2e2e" stroke-width="0.9" opacity="0.60"/><circle cx="2.3" cy="-3.8" r="5.0" fill="none" stroke="#2a2a2a" stroke-width="0.9" opacity="0.60"/><circle cx="2.6" cy="-4.4" r="4.2" fill="#0b0b0b"/><rect x="0.6" y="-7.2" width="4.6" height="5" rx="1" fill="#4a4238"/><rect x="1.8" y="-6" width="2.2" height="2.4" fill="#5e564a"/></g>
<g transform="translate(423.0,507.5)"><path d="M-21,4 L-29,26 L-5,32 L15,24 L21,4 Z" fill="#181818"/><path d="M-21,6 L-29,26 L-13,29 L-11,15 Z" fill="#2a2a2a"/><path d="M-13,29 L-5,32 L15,24 L4,20 Z" fill="#202020"/><path d="M18,14 L14,34" stroke="#2c2c2c" stroke-width="1.3" fill="none"/><circle r="21.0" fill="url(#ledg)"/><circle cx="0.2" cy="-0.4" r="19.5" fill="none" stroke="#303030" stroke-width="0.9" opacity="0.50"/><circle cx="0.6" cy="-1.1" r="16.5" fill="none" stroke="#2e2e2e" stroke-width="0.9" opacity="0.55"/><circle cx="1.1" cy="-1.8" r="13.5" fill="none" stroke="#2e2e2e" stroke-width="0.9" opacity="0.60"/><circle cx="1.5" cy="-2.5" r="10.5" fill="none" stroke="#303030" stroke-width="0.9" opacity="0.60"/><circle cx="1.9" cy="-3.2" r="7.5" fill="none" stroke="#2e2e2e" stroke-width="0.9" opacity="0.60"/><circle cx="2.3" cy="-3.8" r="5.0" fill="none" stroke="#2a2a2a" stroke-width="0.9" opacity="0.60"/><circle cx="2.6" cy="-4.4" r="4.2" fill="#0b0b0b"/><rect x="0.6" y="-7.2" width="4.6" height="5" rx="1" fill="#4a4238"/><rect x="1.8" y="-6" width="2.2" height="2.4" fill="#5e564a"/></g>
<g transform="translate(328.6,579.5)"><path d="M-40,15 L-35,2 L-22,-6 L-5,-7 L8,-2 L11,9 L3,19 L-15,21 Z" fill="#1f1f1f"/><path d="M0,1 L-35,2 L-40,15 Z" fill="#343434"/><path d="M0,1 L-22,-6 L-35,2 Z" fill="#2a2a2a"/><path d="M0,1 L-5,-7 L-22,-6 Z" fill="#303030"/><path d="M0,1 L-40,15 L-28,19 Z" fill="#282828"/><path d="M4,6 L-2,24" stroke="#2e2e2e" stroke-width="1.2"/><ellipse cx="1" cy="0" rx="3.4" ry="2.6" fill="#0c0c0c"/><path d="M-1.5,-0.6 L3,-0.9" stroke="#777" stroke-width="1"/></g>
<g transform="translate(383.0,585.0)"><path d="M-40,15 L-35,2 L-22,-6 L-5,-7 L8,-2 L11,9 L3,19 L-15,21 Z" fill="#1f1f1f"/><path d="M0,1 L-35,2 L-40,15 Z" fill="#343434"/><path d="M0,1 L-22,-6 L-35,2 Z" fill="#2a2a2a"/><path d="M0,1 L-5,-7 L-22,-6 Z" fill="#303030"/><path d="M0,1 L-40,15 L-28,19 Z" fill="#282828"/><path d="M4,6 L-2,24" stroke="#2e2e2e" stroke-width="1.2"/><ellipse cx="1" cy="0" rx="3.4" ry="2.6" fill="#0c0c0c"/><path d="M-1.5,-0.6 L3,-0.9" stroke="#777" stroke-width="1"/></g>
<g transform="translate(435.0,589.6)"><path d="M-40,15 L-35,2 L-22,-6 L-5,-7 L8,-2 L11,9 L3,19 L-15,21 Z" fill="#1f1f1f"/><path d="M0,1 L-35,2 L-40,15 Z" fill="#343434"/><path d="M0,1 L-22,-6 L-35,2 Z" fill="#2a2a2a"/><path d="M0,1 L-5,-7 L-22,-6 Z" fill="#303030"/><path d="M0,1 L-40,15 L-28,19 Z" fill="#282828"/><path d="M4,6 L-2,24" stroke="#2e2e2e" stroke-width="1.2"/><ellipse cx="1" cy="0" rx="3.4" ry="2.6" fill="#0c0c0c"/><path d="M-1.5,-0.6 L3,-0.9" stroke="#777" stroke-width="1"/></g>
<g transform="translate(326.0,631.0)"><path d="M-40,15 L-35,2 L-22,-6 L-5,-7 L8,-2 L11,9 L3,19 L-15,21 Z" fill="#1f1f1f"/><path d="M0,1 L-35,2 L-40,15 Z" fill="#343434"/><path d="M0,1 L-22,-6 L-35,2 Z" fill="#2a2a2a"/><path d="M0,1 L-5,-7 L-22,-6 Z" fill="#303030"/><path d="M0,1 L-40,15 L-28,19 Z" fill="#282828"/><path d="M4,6 L-2,24" stroke="#2e2e2e" stroke-width="1.2"/><ellipse cx="1" cy="0" rx="3.4" ry="2.6" fill="#0c0c0c"/><path d="M-1.5,-0.6 L3,-0.9" stroke="#777" stroke-width="1"/></g>
<g transform="translate(381.0,636.0)"><path d="M-40,15 L-35,2 L-22,-6 L-5,-7 L8,-2 L11,9 L3,19 L-15,21 Z" fill="#1f1f1f"/><path d="M0,1 L-35,2 L-40,15 Z" fill="#343434"/><path d="M0,1 L-22,-6 L-35,2 Z" fill="#2a2a2a"/><path d="M0,1 L-5,-7 L-22,-6 Z" fill="#303030"/><path d="M0,1 L-40,15 L-28,19 Z" fill="#282828"/><path d="M4,6 L-2,24" stroke="#2e2e2e" stroke-width="1.2"/><ellipse cx="1" cy="0" rx="3.4" ry="2.6" fill="#0c0c0c"/><path d="M-1.5,-0.6 L3,-0.9" stroke="#777" stroke-width="1"/></g>
<g transform="translate(432.5,640.0)"><path d="M-40,15 L-35,2 L-22,-6 L-5,-7 L8,-2 L11,9 L3,19 L-15,21 Z" fill="#1f1f1f"/><path d="M0,1 L-35,2 L-40,15 Z" fill="#343434"/><path d="M0,1 L-22,-6 L-35,2 Z" fill="#2a2a2a"/><path d="M0,1 L-5,-7 L-22,-6 Z" fill="#303030"/><path d="M0,1 L-40,15 L-28,19 Z" fill="#282828"/><path d="M4,6 L-2,24" stroke="#2e2e2e" stroke-width="1.2"/><ellipse cx="1" cy="0" rx="3.4" ry="2.6" fill="#0c0c0c"/><path d="M-1.5,-0.6 L3,-0.9" stroke="#777" stroke-width="1"/></g>
<path d="M284,532 Q362,548.4 443,550.2 L443,581.6 Q364,581.2 287.4,563.4 Q284.5,562 284.3,558 Z" fill="#363636"/>
<path d="M287.4,563.4 Q364,581.2 443,581.6 L443,584.6 Q364,584.2 286,566.2 Z" fill="#464646"/>
<path d="M294.5,538 Q360.5,554 425,556.4 Q428,556.8 428,560 L428,574 Q428,577.2 425,577 Q360.5,573 295,559.6 Q293,559 293,556.5 L293,540 Q293,537.6 294.5,538 Z" fill="url(#dots)" stroke="#50080c" stroke-width="1.2"/>
<rect x="325.5" y="575.5" width="6" height="5" rx="1" fill="#ddd6a2"/><rect x="326.5" y="573.5" width="4" height="2.5" fill="#cfcfcf"/>
<path d="M305.0,115.0 Q361.5,136.1 418.0,147.5 L418.0,155.5 Q361.5,144.3 305.0,123.5 Z" fill="url(#shelfg)"/>
<path d="M295.0,191.0 Q369.0,205.7 443.0,210.8 L443.0,218.3 Q369.0,214.7 295.0,201.5 Z" fill="url(#shelfg)"/>
<path d="M288.0,261.0 Q365.5,275.7 443.0,280.8 L443.0,288.3 Q365.5,285.7 288.0,273.5 Z" fill="url(#shelfg)"/>
<path d="M282.5,330.0 Q362.8,343.1 443.0,346.6 L443.0,354.1 Q362.8,352.6 282.5,341.5 Z" fill="url(#shelfg)"/>
<path d="M280.0,396.0 Q361.5,410.7 443.0,415.8 L443.0,423.3 Q361.5,420.2 280.0,407.5 Z" fill="url(#shelfg)"/>
<path d="M279.0,464.0 Q361.0,477.6 443.0,481.6 L443.0,493.1 Q361.0,489.1 279.0,475.5 Z" fill="url(#shelfg)"/>
<path d="M282.0,605.0 Q362.5,619.5 443.0,624.5 L443.0,634.0 Q362.5,630.5 282.0,617.5 Z" fill="url(#shelfg)"/>
<path d="M286.0,652.5 Q364.5,668.3 443.0,674.5 L443.0,684.5 Q364.5,679.0 286.0,664.0 Z" fill="url(#shelfg)"/>
</g>
<g font-family="Liberation Sans, sans-serif" font-size="6.2" fill="#444" letter-spacing="0.2"><text transform="translate(402,728.3) rotate(-3.5)">SAE AIRSTP2A 07 DOT</text><text transform="translate(290,712) rotate(11.5)" fill="#3c3c3c">E4 5765 11002</text></g>
<path d="M511,511 L581.8,485.4 L586.2,567.5 L524,595 L517,590.7 Z" fill="#5a090d"/>
<path d="M517,514.5 L578.5,492 L582.5,564 L525,589.5 L521,586.5 Z" fill="url(#dots2)"/>
<path d="M578.5,492 L581.8,485.4 L586.2,567.5 L582.5,564 Z" fill="#7a0e14"/>
<path d="M506,602 L524,595" fill="none" stroke="#2e2e2e" stroke-width="1.6"/>
<path d="M508.5,602 L509,676 Q508,692 494,699" fill="none" stroke="#262626" stroke-width="1.4"/>
<path d="M503,300 Q507,345 520,400 Q532,455 538,503" fill="none" stroke="#262626" stroke-width="1"/>
<path d="M560,296 Q572,350 590,420 Q600,470 604,520" fill="none" stroke="#1f1f1f" stroke-width="1"/>
<path d="M524,596 L526,700" fill="none" stroke="#1c1c1c" stroke-width="1"/>
<g class="dash">
<line x1="714.7" y1="234.5" x2="545.0" y2="234.5"/>
<line x1="714.7" y1="328.0" x2="526.0" y2="328.0"/>
<line x1="714.7" y1="422.9" x2="473.0" y2="422.9"/>
<line x1="759.3" y1="550.0" x2="559.0" y2="550.0"/>
<line x1="105.0" y1="364.3" x2="370.0" y2="364.3"/>
<line x1="90.0" y1="630.7" x2="318.0" y2="630.7"/>
</g>
<circle cx="539.1" cy="234.5" r="6.9" fill="#f70008"/><circle cx="539.1" cy="234.5" r="4.75" fill="#fff"/><circle cx="520.0" cy="328.0" r="6.9" fill="#f70008"/><circle cx="520.0" cy="328.0" r="4.75" fill="#fff"/><circle cx="466.8" cy="422.8" r="6.9" fill="#f70008"/><circle cx="466.8" cy="422.8" r="4.75" fill="#fff"/><circle cx="553.0" cy="549.6" r="6.9" fill="#f70008"/><circle cx="553.0" cy="549.6" r="4.75" fill="#fff"/><circle cx="375.8" cy="364.3" r="6.9" fill="#f70008"/><circle cx="375.8" cy="364.3" r="4.75" fill="#fff"/><circle cx="323.8" cy="630.5" r="6.9" fill="#f70008"/><circle cx="323.8" cy="630.5" r="4.75" fill="#fff"/>
<g class="lbl" opacity="0.995">
<text style="word-spacing:6.3px" x="597.8" y="227.8" textLength="119.3" lengthAdjust="spacingAndGlyphs" text-anchor="start">SMOKE LENS</text>
<text x="656.8" y="301.4" textLength="59.0" lengthAdjust="spacingAndGlyphs" text-anchor="start">BLACK</text>
<text x="629.8" y="321.5" textLength="86.0" lengthAdjust="spacingAndGlyphs" text-anchor="start">HOUSING</text>
<text x="628.0" y="395.4" textLength="87.8" lengthAdjust="spacingAndGlyphs" text-anchor="start">RUNNING</text>
<text x="661.6" y="415.6" textLength="54.2" lengthAdjust="spacingAndGlyphs" text-anchor="start">LIGHT</text>
<text x="657.0" y="542.8" textLength="103.3" lengthAdjust="spacingAndGlyphs" text-anchor="start">REFLECTOR</text>
<text x="104.0" y="337.0" textLength="64.0" lengthAdjust="spacingAndGlyphs" text-anchor="start">BRAKE/</text>
<text x="104.0" y="357.0" textLength="121.8" lengthAdjust="spacingAndGlyphs" text-anchor="start">TURN SIGNAL</text>
<text x="88.6" y="624.5" textLength="77.6" lengthAdjust="spacingAndGlyphs" text-anchor="start">REVERSE</text>
</g>
</svg></body></html>
